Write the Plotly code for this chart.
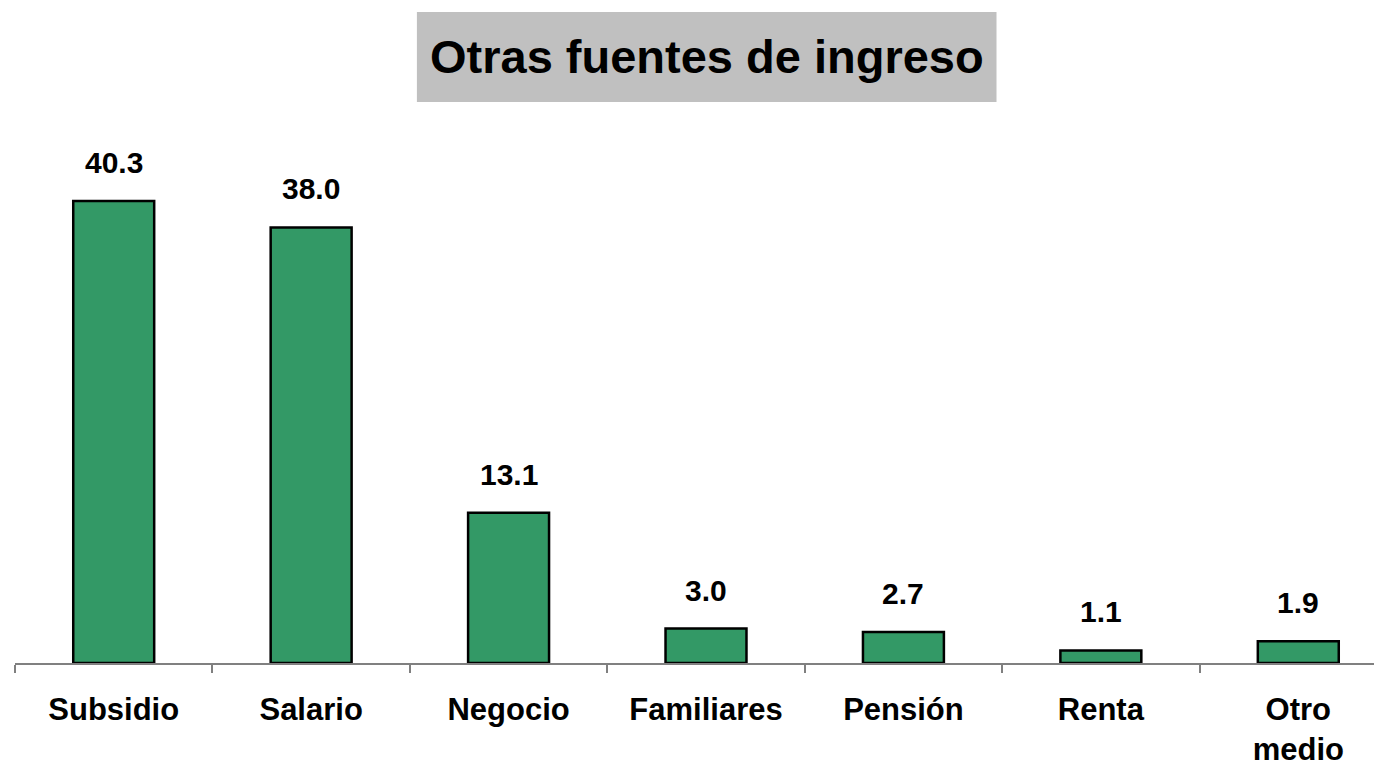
import plotly.graph_objects as go

categories = ['Subsidio', 'Salario', 'Negocio', 'Familiares', 'Pensión', 'Renta', 'Otro<br>medio']
values = [40.3, 38.0, 13.1, 3.0, 2.7, 1.1, 1.9]
value_labels = ['40.3', '38.0', '13.1', '3.0', '2.7', '1.1', '1.9']

font_family = 'Liberation Sans, Arial, sans-serif'

fig = go.Figure()
fig.add_trace(go.Bar(x=categories, y=values, width=0.41,
                     marker=dict(color='#339966', line=dict(color='black', width=2.5)),
                     showlegend=False, hoverinfo='x+y'))

# value labels above the bars
for c, v, t in zip(categories, values, value_labels):
    fig.add_annotation(x=c, y=v, text='<b>%s</b>' % t, showarrow=False,
                       yanchor='bottom', yshift=20,
                       font=dict(family=font_family, size=30, color='black'))

# title box
fig.add_shape(type='rect', xref='paper', yref='paper', x0=0.294, x1=0.718, y0=1.0145, y1=1.177,
              fillcolor='#c0c0c0', line=dict(width=0), layer='below')
fig.add_annotation(xref='paper', yref='paper', x=0.506, y=1.096, text='<b>Otras fuentes de ingreso</b>',
                   showarrow=False, xanchor='center', yanchor='middle',
                   font=dict(family=font_family, size=47, color='black'))

fig.update_xaxes(range=[-0.5, 6.424], showline=True, linecolor='#808080', linewidth=1.5,
                 ticks='outside', tickson='boundaries', ticklen=8, tickcolor='#808080', tickwidth=1.5,
                 tickfont=dict(family=font_family, size=31, color='black'), ticklabelstandoff=18,
                 tickprefix='<b>', ticksuffix='</b>', showgrid=False, zeroline=False)
fig.update_yaxes(range=[0, 48.25], visible=False, showgrid=False, zeroline=False)

# page body has an 8px margin, so the figure is 8px smaller
fig.update_layout(width=1374, height=761, plot_bgcolor='white', paper_bgcolor='white',
                  margin=dict(l=7, r=0, t=102, b=106), bargap=0.59,
                  font=dict(family=font_family))

fig.write_html("out.html")
